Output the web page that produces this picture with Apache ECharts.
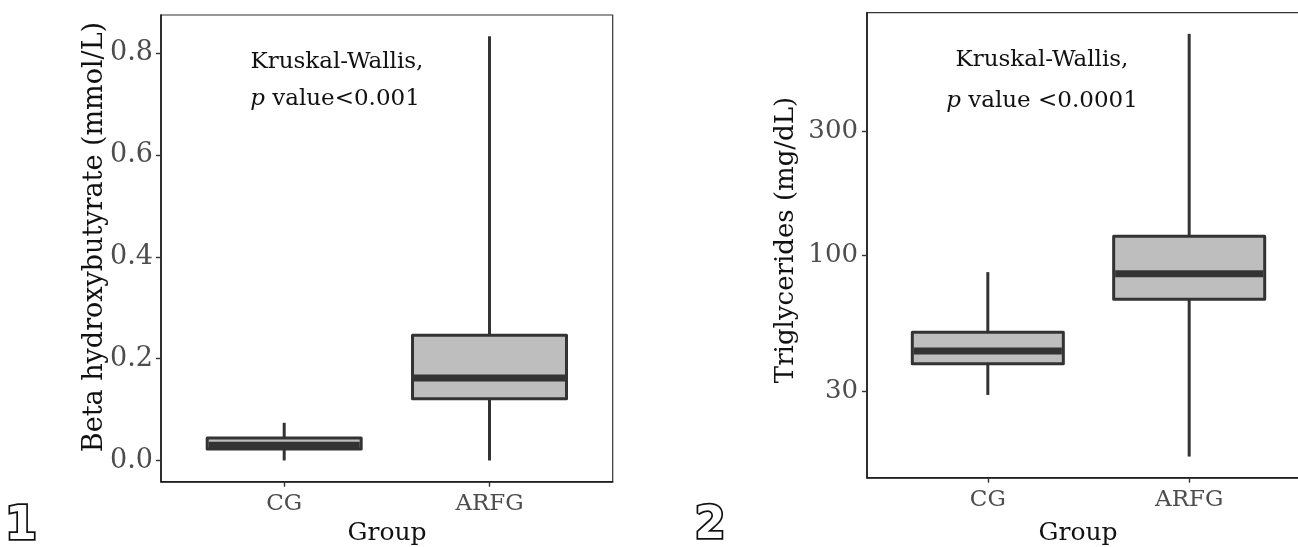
<!DOCTYPE html>
<html>
<head>
<meta charset="utf-8">
<script src="https://cdn.jsdelivr.net/npm/echarts@6/dist/echarts.min.js"></script>
<style>
html,body{margin:0;padding:0;background:#ffffff;}
#c{width:1298px;height:547px;}
</style>
</head>
<body>
<div id="c"></div>
<script>
// ---------------- data ----------------
const groups = ['CG', 'ARFG'];
// box statistics: [lower whisker, Q1, median, Q3, upper whisker]
const bhbCG   = [0.000, 0.0226, 0.030, 0.0442, 0.074];
const bhbARFG = [0.000, 0.121, 0.162, 0.246, 0.833];
const tgCG    = [29.0, 38.2, 42.8, 50.5, 86.1];
const tgARFG  = [16.8, 67.7, 84.8, 118.2, 711];
const bhbTicks = [0, 0.2, 0.4, 0.6, 0.8];
const tgTicks  = [30, 100, 300];
const bhbTitle = 'Beta hydroxybutyrate (mmol/L)';
const tgTitle  = 'Triglycerides (mg/dL)';
const xTitle   = 'Group';
const testName = 'Kruskal-Wallis,';
const pText1   = 'value<0.001';
const pText2   = 'value <0.0001';

// ---------------- helpers ----------------
const SERIF = '"DejaVu Serif", serif';
const STROKE = '#333333';
const FILL = '#bebebe';
const BOX_HALF = 0.375;

function linExpand(arrs) {
  const all = [].concat(...arrs);
  const lo = Math.min(...all), hi = Math.max(...all), d = hi - lo;
  return [lo - 0.05 * d, hi + 0.05 * d];
}
function logExpand(arrs) {
  const all = [].concat(...arrs).map(v => Math.log10(v));
  const lo = Math.min(...all), hi = Math.max(...all), d = hi - lo;
  return [Math.pow(10, lo - 0.05 * d), Math.pow(10, hi + 0.05 * d)];
}
function boxData(list) {
  return list.map((stats, i) => [i + 1].concat(stats));
}
function renderBox(params, api) {
  const x = api.value(0);
  const lo = api.value(1), q1 = api.value(2), med = api.value(3), q3 = api.value(4), hi = api.value(5);
  const pLo = api.coord([x, lo]);
  const pQ1 = api.coord([x, q1]);
  const pMed = api.coord([x, med]);
  const pQ3 = api.coord([x, q3]);
  const pHi = api.coord([x, hi]);
  const left = api.coord([x - BOX_HALF, med])[0];
  const right = api.coord([x + BOX_HALF, med])[0];
  return {
    type: 'group',
    children: [
      { type: 'line', shape: { x1: pLo[0], y1: pLo[1], x2: pQ1[0], y2: pQ1[1] }, style: { stroke: STROKE, lineWidth: 3 } },
      { type: 'line', shape: { x1: pQ3[0], y1: pQ3[1], x2: pHi[0], y2: pHi[1] }, style: { stroke: STROKE, lineWidth: 3 } },
      { type: 'rect', shape: { x: left, y: pQ3[1], width: right - left, height: pQ1[1] - pQ3[1] },
        style: { fill: FILL, stroke: STROKE, lineWidth: 3, lineJoin: 'round' } },
      { type: 'line', shape: { x1: left + 1.5, y1: pMed[1], x2: right - 1.5, y2: pMed[1] }, style: { stroke: STROKE, lineWidth: 7 } }
    ]
  };
}

const bhbRange = linExpand([bhbCG, bhbARFG]);
const tgRange = logExpand([tgCG, tgARFG]);

function xAxisFor(gridIndex) {
  return {
    type: 'value', gridIndex: gridIndex, min: 0.4, max: 2.6,
    splitLine: { show: false },
    axisLine: { show: true, onZero: false, lineStyle: { color: '#1a1a1a', width: 1.6 } },
    axisTick: { show: true, length: 5, customValues: [1, 2], lineStyle: { color: '#333', width: 1.4 } },
    axisLabel: { customValues: [1, 2], margin: 11, color: '#4d4d4d', fontFamily: SERIF, fontSize: 23,
      formatter: v => groups[Math.round(v) - 1] || '' }
  };
}

const chart = echarts.init(document.getElementById('c'), null, { renderer: 'canvas' });
chart.setOption({
  animation: false,
  backgroundColor: '#ffffff',
  grid: [
    { left: 161, top: 15, width: 451.7, height: 466.7, show: true, borderColor: '#333', borderWidth: 1.2,
      backgroundColor: 'transparent', containLabel: false, outerBoundsMode: 'none' },
    { left: 867, top: 12.7, width: 443, height: 465, show: true, borderColor: '#333', borderWidth: 1.2,
      backgroundColor: 'transparent', containLabel: false, outerBoundsMode: 'none' }
  ],
  xAxis: [xAxisFor(0), xAxisFor(1)],
  yAxis: [
    {
      type: 'value', gridIndex: 0, min: bhbRange[0], max: bhbRange[1],
      splitLine: { show: false },
      axisLine: { show: true, onZero: false, lineStyle: { color: '#1a1a1a', width: 1.6 } },
      axisTick: { show: true, length: 5, customValues: bhbTicks, lineStyle: { color: '#333', width: 1.4 } },
      axisLabel: { customValues: bhbTicks, margin: 8, color: '#4d4d4d', fontFamily: SERIF, fontSize: 27,
        formatter: v => Number(v).toFixed(1) }
    },
    {
      type: 'log', logBase: 10, gridIndex: 1, min: tgRange[0], max: tgRange[1],
      splitLine: { show: false },
      axisLine: { show: true, onZero: false, lineStyle: { color: '#1a1a1a', width: 1.6 } },
      axisTick: { show: true, length: 5, customValues: tgTicks, lineStyle: { color: '#333', width: 1.4 } },
      axisLabel: { customValues: tgTicks, margin: 9, color: '#4d4d4d', fontFamily: SERIF, fontSize: 26,
        formatter: v => String(Math.round(v)) }
    }
  ],
  series: [
    { type: 'custom', xAxisIndex: 0, yAxisIndex: 0, renderItem: renderBox, data: boxData([bhbCG, bhbARFG]),
      encode: { x: 0, y: [1, 2, 3, 4, 5] }, clip: false, silent: true },
    { type: 'custom', xAxisIndex: 1, yAxisIndex: 1, renderItem: renderBox, data: boxData([tgCG, tgARFG]),
      encode: { x: 0, y: [1, 2, 3, 4, 5] }, clip: false, silent: true }
  ],
  graphic: [
    { type: 'text', x: 95, y: 237, rotation: Math.PI / 2,
      style: { text: bhbTitle, font: '27px ' + SERIF, fill: '#111', align: 'center', verticalAlign: 'middle' } },
    { type: 'text', x: 786, y: 240, rotation: Math.PI / 2,
      style: { text: tgTitle, font: '26px ' + SERIF, fill: '#111', align: 'center', verticalAlign: 'middle' } },
    { type: 'text', x: 387, y: 533,
      style: { text: xTitle, font: '25px ' + SERIF, fill: '#111', align: 'center', verticalAlign: 'middle' } },
    { type: 'text', x: 1078, y: 533,
      style: { text: xTitle, font: '25px ' + SERIF, fill: '#111', align: 'center', verticalAlign: 'middle' } },
    { type: 'text', x: 337, y: 62,
      style: { text: testName, font: '23px ' + SERIF, fill: '#111', align: 'center', verticalAlign: 'middle' } },
    { type: 'text', x: 335, y: 99,
      style: { text: '{i|p} ' + pText1, align: 'center', verticalAlign: 'middle',
        rich: { i: { font: 'italic 23px ' + SERIF, fill: '#111' } }, font: '23px ' + SERIF, fill: '#111' } },
    { type: 'text', x: 1042, y: 60,
      style: { text: testName, font: '23px ' + SERIF, fill: '#111', align: 'center', verticalAlign: 'middle' } },
    { type: 'text', x: 1042, y: 101,
      style: { text: '{i|p} ' + pText2, align: 'center', verticalAlign: 'middle',
        rich: { i: { font: 'italic 23px ' + SERIF, fill: '#111' } }, font: '23px ' + SERIF, fill: '#111' } },
    { type: 'text', x: 21, y: 527,
      style: { text: '1', font: 'bold 46px "DejaVu Sans", sans-serif', fill: '#ffffff', stroke: '#111', lineWidth: 3.5,
        align: 'center', verticalAlign: 'middle' } },
    { type: 'text', x: 710, y: 527,
      style: { text: '2', font: 'bold 44px "DejaVu Sans", sans-serif', fill: '#ffffff', stroke: '#111', lineWidth: 3.5,
        align: 'center', verticalAlign: 'middle' } }
  ]
});
</script>
</body>
</html>
